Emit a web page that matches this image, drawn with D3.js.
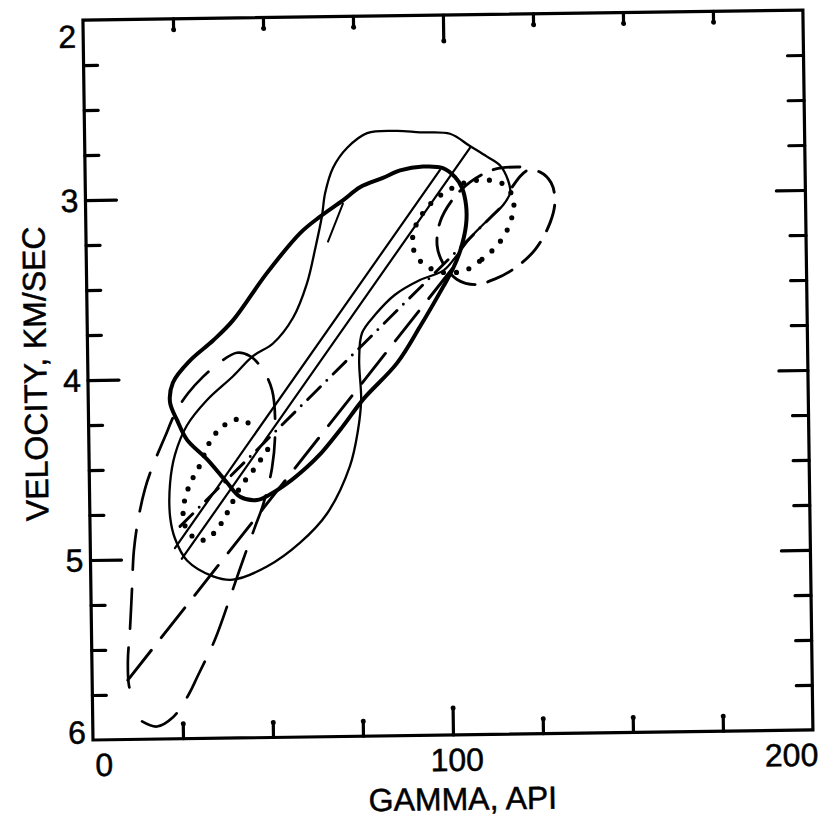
<!DOCTYPE html>
<html>
<head>
<meta charset="utf-8">
<script src="https://cdn.jsdelivr.net/npm/d3@7"></script>
<style>
  html, body { margin: 0; padding: 0; background: #fff; }
  svg { display: block; }
  text { font-family: "Liberation Sans", Arial, sans-serif; fill: #000; stroke: #000; stroke-width: 0.5px; }
</style>
</head>
<body>
<svg id="chart" width="840" height="825"></svg>
<script>
// Gamma-ray (API) versus interval velocity (km/s): lithology envelopes and trend lines

const gammaTicks = [25, 50, 75, 100, 125, 150, 175];
const gammaLabels = [0, 100, 200];
const velocityTicks = [2.25, 2.5, 2.75, 3, 3.25, 3.5, 3.75, 4, 4.25, 4.5, 4.75, 5, 5.25, 5.5, 5.75];
const velocityLabels = [2, 3, 4, 5, 6];

// heavy solid envelope (closed)
const envelopeHeavy = [
  [101.8, 3.41], [103.9, 3.31], [105.6, 3.17], [105.7, 3.06], [104.6, 2.96], [102.7, 2.90],
  [99.4, 2.85], [93.9, 2.84], [87.5, 2.86], [82.7, 2.90], [76.3, 2.95], [71.6, 3.02],
  [65.1, 3.11], [59.5, 3.20], [50.1, 3.42], [40.5, 3.68], [34.9, 3.79], [28.4, 3.90],
  [23.6, 4.02], [22.7, 4.13], [24.6, 4.23], [27.3, 4.34], [32.8, 4.45], [38.2, 4.58],
  [41.8, 4.66], [46.5, 4.68], [50.1, 4.65], [54.9, 4.59], [60.5, 4.50], [64.2, 4.43],
  [70.5, 4.28], [76.3, 4.13], [85.9, 3.93], [92.4, 3.73], [99.0, 3.51]
];

// light solid envelope (closed)
const envelopeLight = [
  [93.2, 2.65], [86.8, 2.64], [78.5, 2.65], [72.9, 2.73], [68.9, 2.84], [66.6, 2.98],
  [65.6, 3.11], [63.6, 3.29], [61.2, 3.48], [57.2, 3.67], [51.6, 3.81], [45.9, 3.88],
  [40.3, 3.99], [33.0, 4.12], [27.3, 4.26], [23.9, 4.42], [22.4, 4.58], [22.3, 4.77],
  [23.6, 4.89], [26.8, 5.01], [34.0, 5.10], [39.5, 5.12], [49.0, 5.05], [58.3, 4.92],
  [65.9, 4.76], [72.4, 4.50], [74.8, 4.30], [75.8, 4.13], [75.4, 3.91], [76.3, 3.76],
  [80.0, 3.66], [85.6, 3.55], [92.6, 3.47], [99.1, 3.42], [102.4, 3.35], [106.7, 3.24],
  [112.3, 3.13], [116.0, 3.06], [118.0, 2.99], [117.4, 2.92], [115.3, 2.84], [111.7, 2.79],
  [107.0, 2.73], [101.5, 2.66]
];

// short solid stroke crossing the heavy envelope's upper edge
const crossStroke = [[71.5, 3.04], [67.2, 3.25]];

// paired straight trend lines (solid)
const trendSolidA = [[23.5, 4.94], [98.6, 2.86]];
const trendSolidB = [[25.4, 5.00], [107.0, 2.74]];

// dash-dot trend line
const trendDashDot = [[25.0, 4.82], [116.5, 3.05]];

// long-dash trend line
const trendLongDash = [[9.9, 5.67], [101.6, 3.41]];

// long-dash envelope (open at the low-gamma, high-velocity end)
const envelopeLongDash = [
  [13.7, 5.90], [17.8, 5.93], [22.3, 5.88], [26.6, 5.76], [29.4, 5.65], [34.3, 5.45],
  [39.5, 5.17], [42.4, 5.01], [45.8, 4.83], [48.1, 4.71], [50.8, 4.50], [51.8, 4.29],
  [51.1, 4.07], [48.4, 3.95], [45.1, 3.88], [41.5, 3.86], [36.8, 3.91], [32.0, 3.99],
  [27.8, 4.08], [24.1, 4.19], [21.2, 4.32], [17.7, 4.48], [15.4, 4.61], [13.4, 4.78],
  [12.1, 4.95], [11.4, 5.17], [10.7, 5.39], [10.0, 5.56], [10.2, 5.70], [11.3, 5.77]
];

// dotted envelope, low end (open, joins the dash-dot line)
const envelopeDottedLow = [
  [44.3, 4.25], [41.2, 4.23], [37.1, 4.27], [33.7, 4.35], [30.8, 4.48], [27.6, 4.60],
  [25.9, 4.74], [26.9, 4.84], [30.5, 4.90], [34.4, 4.86], [38.1, 4.75], [41.8, 4.61],
  [46.1, 4.50], [50.3, 4.38]
];

// dotted envelope, high end (closed)
const envelopeDottedHigh = [
  [105.2, 3.42], [109.9, 3.36], [113.9, 3.29], [117.0, 3.20], [118.7, 3.10], [118.8, 3.02],
  [115.8, 2.94], [109.1, 2.92], [102.1, 2.96], [95.7, 3.05], [91.4, 3.18], [90.8, 3.29],
  [93.5, 3.38], [99.1, 3.43]
];

// medium-dash envelope (open)
const envelopeDashed = [
  [120.8, 2.85], [113.9, 2.86], [106.9, 2.93], [101.8, 3.03], [98.4, 3.15], [97.5, 3.28],
  [99.1, 3.38], [102.9, 3.47], [107.9, 3.50], [113.5, 3.47], [119.1, 3.41], [124.7, 3.31],
  [129.0, 3.16], [130.4, 3.04], [129.4, 2.94], [126.4, 2.88], [122.8, 2.87], [118.6, 2.96]
];

const frameL = 93, frameR = 813, frameT = 20, frameB = 740;

const x = d3.scaleLinear().domain([0, 200]).range([frameL, frameR]);
const y = d3.scaleLinear().domain([2, 6]).range([frameT, frameB]);

const svg = d3.select("#chart");
// the whole figure sits slightly tilted on the page
const fig = svg.append("g").attr("transform", `rotate(-0.8, ${frameL}, ${frameB})`);

const ink = "#000";

// axes: ticks point inward, no domain path (frame drawn separately)
function styleAxis(g) {
  g.select(".domain").remove();
  g.selectAll(".tick line").attr("stroke", ink).attr("stroke-width", 3.2).attr("stroke-linecap", "round");
  g.selectAll(".tick text").remove();
}

const axBottom = fig.append("g").attr("transform", `translate(0,${frameB})`)
  .call(d3.axisBottom(x).tickValues(gammaTicks).tickSizeInner(-15).tickSizeOuter(0).tickFormat(""))
  .call(styleAxis);
axBottom.selectAll(".tick line").filter(d => d === 100).attr("y2", -27);
axBottom.selectAll(".tick").append("circle")
  .attr("cy", d => d === 100 ? -27 : -15).attr("r", 2.5).attr("fill", ink);

const axTop = fig.append("g").attr("transform", `translate(0,${frameT})`)
  .call(d3.axisTop(x).tickValues(gammaTicks).tickSizeInner(-11).tickSizeOuter(0).tickFormat(""))
  .call(styleAxis);
axTop.selectAll(".tick line").filter(d => d === 100).attr("y2", 26);
axTop.selectAll(".tick").append("circle")
  .attr("cy", d => d === 100 ? 26 : 11).attr("r", 2.5).attr("fill", ink);

const axLeft = fig.append("g").attr("transform", `translate(${frameL},0)`)
  .call(d3.axisLeft(y).tickValues(velocityTicks).tickSizeInner(-14).tickSizeOuter(0).tickFormat(""))
  .call(styleAxis);
axLeft.selectAll(".tick line").filter(d => Number.isInteger(d)).attr("x2", 31);

const axRight = fig.append("g").attr("transform", `translate(${frameR},0)`)
  .call(d3.axisRight(y).tickValues(velocityTicks).tickSizeInner(-16).tickSizeOuter(0).tickFormat(""))
  .call(styleAxis);
axRight.selectAll(".tick line").filter(d => Number.isInteger(d)).attr("x2", -29);

// frame
fig.append("rect")
  .attr("x", frameL).attr("y", frameT)
  .attr("width", frameR - frameL).attr("height", frameB - frameT)
  .attr("fill", "none").attr("stroke", ink).attr("stroke-width", 3.2);

// tick labels
const fs = 32;
fig.selectAll("text.xlab").data(gammaLabels).enter().append("text")
  .attr("class", "xlab")
  .attr("x", d => d === 0 ? x(d) + 2 : d === 200 ? x(d) + 5 : x(d) + 4)
  .attr("y", frameB + 36)
  .attr("text-anchor", d => d === 0 ? "start" : d === 200 ? "end" : "middle")
  .attr("font-size", fs)
  .text(d => d);

fig.selectAll("text.ylab").data(velocityLabels).enter().append("text")
  .attr("class", "ylab")
  .attr("x", frameL - 7)
  .attr("y", d => y(d) + 11.5 + (d === 2 ? 16 : d === 6 ? -8 : 0))
  .attr("text-anchor", "end")
  .attr("font-size", fs)
  .text(d => d);

// axis titles
fig.append("text")
  .attr("x", 462).attr("y", 815)
  .attr("text-anchor", "middle").attr("font-size", fs)
  .text("GAMMA, API");

fig.append("text")
  .attr("transform", "translate(40,373) rotate(-90)")
  .attr("text-anchor", "middle").attr("dy", "0.36em").attr("font-size", fs)
  .text("VELOCITY, KM/SEC");

// curves
const plot = fig.append("g").attr("fill", "none").attr("stroke", ink)
  .attr("stroke-linejoin", "round");

const openCurve = d3.line().x(d => x(d[0])).y(d => y(d[1])).curve(d3.curveCatmullRom.alpha(0.5));
const closedCurve = d3.line().x(d => x(d[0])).y(d => y(d[1])).curve(d3.curveCatmullRomClosed.alpha(0.5));
const straight = d3.line().x(d => x(d[0])).y(d => y(d[1]));

function draw(gen, data, width, dash) {
  const p = plot.append("path").attr("d", gen(data)).attr("stroke-width", width)
    .attr("stroke-linecap", "round");
  if (dash) p.attr("stroke-dasharray", dash);
  return p;
}

draw(closedCurve, envelopeLight, 2.3);
draw(straight, crossStroke, 2);
draw(straight, trendSolidA, 2.2);
draw(straight, trendSolidB, 2.2);
draw(straight, trendDashDot, 2.9, "18,9,0,9");
draw(straight, trendLongDash, 2.9, "38,16");
draw(openCurve, envelopeLongDash, 2.7, "40,19");
draw(openCurve, envelopeDashed, 2.9, "27,13");
draw(openCurve, envelopeDottedLow, 5.2, "0,12.5");
draw(closedCurve, envelopeDottedHigh, 5.2, "0,13");
draw(closedCurve, envelopeHeavy, 4);
</script>
</body>
</html>
